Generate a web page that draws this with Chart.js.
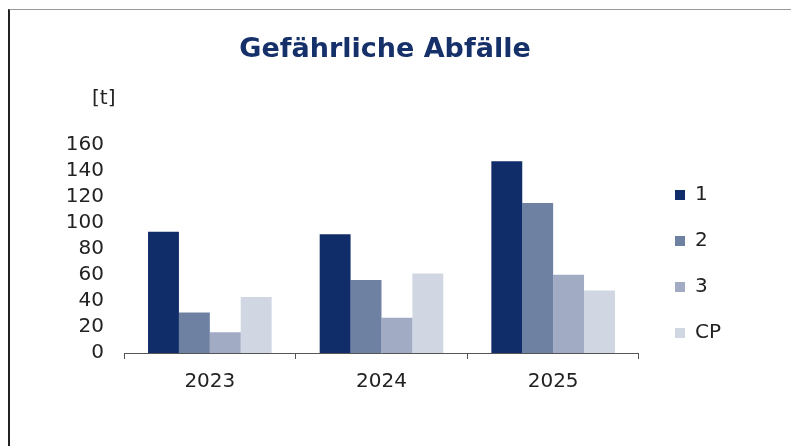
<!DOCTYPE html>
<html>
<head>
<meta charset="utf-8">
<script src="https://cdn.jsdelivr.net/npm/chart.js@4/dist/chart.umd.min.js"></script>
<style>
  html, body { margin: 0; padding: 0; background: #fff; }
  #frame { position: absolute; left: 8px; top: 9px; width: 783px; height: 437px;
           border-top: 1px solid #999; border-left: 2px solid #222; box-sizing: border-box; }
  #wrap { position: absolute; left: 0; top: 0; width: 791px; height: 446px; }
</style>
</head>
<body>
<div id="frame"></div>
<div id="wrap"><canvas id="c" width="791" height="446"></canvas></div>
<script>
const categories = ['2023', '2024', '2025'];
const seriesNames = ['1', '2', '3', 'CP'];
const series1 = [93, 91, 147];
const series2 = [31, 56, 115];
const series3 = [16, 27, 60];
const seriesCP = [43, 61, 48];
const yTicks = [0, 20, 40, 60, 80, 100, 120, 140, 160];
const colors = ['#112d69', '#6f81a3', '#a1abc3', '#d0d6e2'];
const titleText = 'Gefährliche Abfälle';
const unitText = '[t]';

const allSeries = [series1, series2, series3, seriesCP];

const unitPlugin = {
  id: 'unitLabel',
  afterDraw(chart) {
    const ctx = chart.ctx;
    ctx.save();
    ctx.font = '20px "DejaVu Sans"';
    ctx.fillStyle = '#222';
    ctx.textAlign = 'left';
    ctx.textBaseline = 'middle';
    ctx.fillText(unitText, 92, 99);
    ctx.restore();
  }
};

new Chart(document.getElementById('c'), {
  type: 'bar',
  data: {
    labels: categories,
    datasets: allSeries.map((d, i) => ({
      label: seriesNames[i],
      data: d,
      backgroundColor: colors[i],
      borderWidth: 0,
      categoryPercentage: 0.72,
      barPercentage: 1.0
    }))
  },
  options: {
    responsive: false,
    animation: false,
    devicePixelRatio: 1,
    layout: { padding: { left: 39, right: 60, top: 0, bottom: 0 } },
    plugins: {
      tooltip: { enabled: false },
      title: {
        display: true,
        text: titleText,
        color: '#16306a',
        font: { family: 'DejaVu Sans', size: 27, weight: 'bold' },
        padding: { top: 34, bottom: 78 }
      },
      legend: {
        position: 'right',
        align: 'center',
        title: { display: true, text: '', font: { size: 10 }, padding: { top: 70, bottom: 0 } },
        labels: {
          boxWidth: 10,
          boxHeight: 10,
          padding: 26,
          color: '#222',
          font: { family: 'DejaVu Sans', size: 20 }
        }
      }
    },
    scales: {
      x: {
        offset: true,
        grid: { display: true, drawOnChartArea: false, drawTicks: true, tickLength: 6, color: '#555', offset: true },
        border: { display: true, color: '#555', width: 1 },
        ticks: { color: '#222', font: { family: 'DejaVu Sans', size: 20 }, padding: 11 },
        afterFit(s) { s.height = 93; }
      },
      y: {
        min: 0,
        max: 160,
        afterBuildTicks(s) { s.ticks = yTicks.map(v => ({ value: v })); },
        grid: { display: false, drawTicks: false },
        border: { display: false },
        ticks: { color: '#222', font: { family: 'DejaVu Sans', size: 20 }, padding: 20, autoSkip: false },
        afterFit(s) { s.width = 85; }
      },
      y2: {
        position: 'right',
        display: true,
        grid: { display: false, drawTicks: false },
        border: { display: false },
        ticks: { display: false },
        afterFit(s) { s.width = 10; }
      }
    }
  },
  plugins: [unitPlugin]
});
</script>
</body>
</html>
